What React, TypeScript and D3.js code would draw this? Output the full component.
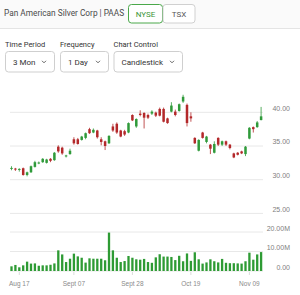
import * as d3 from 'd3';

const dates = [
  '2025-08-14', '2025-08-15', '2025-08-18', '2025-08-19', '2025-08-20', '2025-08-21', '2025-08-22',
  '2025-08-25', '2025-08-26', '2025-08-27', '2025-08-28', '2025-08-29',
  '2025-09-02', '2025-09-03', '2025-09-04', '2025-09-05',
  '2025-09-08', '2025-09-09', '2025-09-10', '2025-09-11', '2025-09-12',
  '2025-09-15', '2025-09-16', '2025-09-17', '2025-09-18', '2025-09-19',
  '2025-09-22', '2025-09-23', '2025-09-24', '2025-09-25', '2025-09-26',
  '2025-09-29', '2025-09-30', '2025-10-01', '2025-10-02', '2025-10-03',
  '2025-10-06', '2025-10-07', '2025-10-08', '2025-10-09', '2025-10-10',
  '2025-10-13', '2025-10-14', '2025-10-15', '2025-10-16', '2025-10-17',
  '2025-10-20', '2025-10-21', '2025-10-22', '2025-10-23', '2025-10-24',
  '2025-10-27', '2025-10-28', '2025-10-29', '2025-10-30', '2025-10-31',
  '2025-11-03', '2025-11-04', '2025-11-05', '2025-11-06', '2025-11-07',
  '2025-11-10', '2025-11-11', '2025-11-12', '2025-11-13',
];

const opens = [
  31.7, 31.65, 31.5, 31.7, 30.7, 31.1, 31.9,
  32.5, 32.6, 32.5, 33.1, 32.9,
  34.9, 34.75, 33.5, 33.8,
  36.0, 36.0, 35.9, 36.2, 37.5,
  37.0, 37.3, 36.0, 35.7, 35.4,
  37.9, 38.3, 37.3, 37.2, 37.0,
  39.6, 37.9, 39.8, 39.9, 39.6,
  39.8, 39.95, 40.5, 40.5, 39.1,
  40.1, 40.1, 40.2, 41.6, 41.1,
  39.4, 36.2, 34.3, 37.0, 35.6,
  35.2, 34.0, 36.2, 35.2, 35.7,
  35.2, 33.9, 34.0, 34.2, 33.8,
  36.1, 37.8, 37.8, 38.85,
];

const closes = [
  31.75, 31.55, 31.6, 30.7, 31.1, 32.0, 32.6,
  32.55, 33.1, 33.0, 32.8, 34.0,
  34.2, 33.9, 33.6, 34.3,
  35.4, 35.3, 36.4, 36.9, 36.9,
  37.4, 36.3, 35.6, 35.0, 36.5,
  37.3, 37.0, 36.4, 36.7, 38.4,
  38.8, 39.0, 39.6, 39.2, 39.2,
  40.1, 39.5, 39.5, 38.6, 38.4,
  41.0, 39.6, 41.2, 42.3, 38.4,
  39.1, 35.4, 35.9, 36.2, 36.4,
  34.6, 35.3, 35.2, 35.7, 35.2,
  34.7, 33.3, 33.7, 33.9, 34.9,
  37.7, 37.5, 38.5, 39.4,
];

const highs = [
  32.0, 31.75, 31.7, 31.8, 31.2, 32.1, 32.8,
  32.7, 33.2, 33.1, 33.2, 34.1,
  35.1, 34.9, 33.7, 34.6,
  36.3, 36.2, 36.5, 37.0, 37.7,
  37.6, 37.4, 36.3, 35.8, 36.6,
  38.3, 38.5, 37.4, 37.4, 38.5,
  39.7, 39.1, 40.3, 40.0, 39.8,
  40.3, 40.1, 40.7, 40.7, 39.2,
  41.5, 40.4, 41.3, 42.6, 41.3,
  40.0, 36.3, 36.0, 37.1, 36.5,
  35.3, 35.7, 36.3, 35.8, 35.8,
  35.3, 34.0, 34.1, 34.3, 35.0,
  37.8, 37.9, 38.7, 40.8,
];

const lows = [
  31.4, 31.3, 31.2, 30.6, 30.5, 31.0, 31.8,
  32.3, 32.5, 32.4, 32.6, 32.8,
  34.0, 33.7, 33.3, 33.7,
  35.2, 35.2, 35.8, 36.0, 36.8,
  36.9, 36.1, 35.1, 34.4, 35.3,
  37.1, 36.8, 36.3, 36.5, 36.9,
  38.7, 37.7, 39.4, 37.6, 39.0,
  39.6, 39.3, 39.4, 38.5, 38.3,
  40.0, 39.4, 40.1, 41.4, 37.9,
  38.6, 35.3, 34.2, 36.1, 35.4,
  33.8, 33.9, 35.0, 35.0, 35.0,
  34.5, 33.2, 33.6, 33.8, 33.5,
  36.0, 37.0, 37.7, 38.8,
];

// millions of shares
const volumes = [
  2.4, 3.1, 1.9, 2.9, 4.8, 3.8, 3.9,
  2.7, 2.9, 2.9, 3.2, 3.9,
  10.6, 8.5, 4.6, 6.3,
  8.9, 7.5, 6.8, 4.3, 6.5,
  6.3, 6.3, 6.3, 5.5, 19.7,
  10.6, 6.8, 4.6, 5.1, 7.7,
  6.8, 6.0, 5.8, 6.2, 4.6,
  4.2, 7.0, 8.6, 7.4, 7.4,
  7.2, 5.6, 7.8, 5.0, 9.0,
  5.2, 9.6, 6.0, 3.8, 4.4,
  6.0, 5.0, 4.4, 6.2, 4.2,
  4.0, 4.0, 3.9, 3.8, 5.0,
  9.4, 5.8, 8.5, 9.7,
];

const priceTicks = [40, 35, 30, 25];
const volumeTicks = [20, 10, 0];
const dateTicks = ['2025-08-18', '2025-09-08', '2025-09-29', '2025-10-20', '2025-11-10'];
const dateTickLabels = ['Aug 17', 'Sept 07', 'Sept 28', 'Oct 19', 'Nov 09'];

const controlLabels = ['Time Period', 'Frequency', 'Chart Control'];
const controlValues = ['3 Mon', '1 Day', 'Candlestick'];

const GREEN = '#2f9a3a';
const RED = '#b3282a';
const VOL = '#2e9b34';
const GRID = '#e8e8e8';
const AXIS_TEXT = '#808080';

export default function App() {
  const x = d3.scalePoint<string>().domain(dates).range([11.5, 261.1]);
  const y = d3.scaleLinear().domain([25, 40]).range([213.4, 112.3]);
  const yv = d3.scaleLinear().domain([0, 20]).range([271, 232]);

  const candles = dates.map((d, i) => ({
    d, o: opens[i], c: closes[i], h: highs[i], l: lows[i], v: volumes[i],
  }));

  const bw = 2.5;
  const font = 'Roboto, sans-serif';
  const axisFont = '"Liberation Sans", Arial, sans-serif';

  // select boxes under the control labels
  const boxes = [
    { x: 5, w: 49 },
    { x: 60, w: 48 },
    { x: 113.5, w: 68.5 },
  ];

  return (
    <svg width={300} height={295} style={{ position: 'absolute', left: 0, top: 0, background: '#fff' }}>
      {/* header */}
      <rect x={0} y={0} width={300} height={28} fill="#fafafa" />
      <line x1={0} x2={300} y1={28.5} y2={28.5} stroke="#e4e4e4" />
      <text x={4} y={15.5} fontFamily={font} fontSize={8.3} fill="#4a4a4a">
        Pan American Silver Corp | PAAS
      </text>
      <rect x={128.5} y={4.5} width={34} height={18.5} rx={3} fill="#fff" stroke="#4aa84a" />
      <text x={145.5} y={16.5} textAnchor="middle" fontFamily={font} fontSize={8} fill="#3a963a">NYSE</text>
      <rect x={163} y={4.5} width={32} height={18.5} rx={3} fill="#fff" stroke="#d0d0d0" />
      <text x={179} y={16.5} textAnchor="middle" fontFamily={font} fontSize={8} fill="#555">TSX</text>

      {/* controls */}
      {boxes.map((b, i) => (
        <g key={i}>
          <text x={b.x} y={47} fontFamily={font} fontSize={7.5} fill="#333">{controlLabels[i]}</text>
          <rect x={b.x + 0.5} y={51.5} width={b.w} height={20.5} rx={3} fill="#fff" stroke="#cfcfcf" />
          <text x={b.x + 8} y={64.8} fontFamily={font} fontSize={8} fill="#333">{controlValues[i]}</text>
          <path
            d={`M${b.x + b.w - 12},${60.8} l2,2 l2,-2`}
            fill="none" stroke="#555" strokeWidth={0.9}
          />
        </g>
      ))}

      {/* grid */}
      {priceTicks.map(t => (
        <g key={'p' + t}>
          <line x1={10} x2={263} y1={y(t)} y2={y(t)} stroke={GRID} strokeWidth={1} />
          <text x={290} y={y(t) - 1.8} textAnchor="end" fontFamily={axisFont} fontSize={7} fill={AXIS_TEXT}>
            {t.toFixed(2)}
          </text>
        </g>
      ))}
      {volumeTicks.map(t => (
        <g key={'v' + t}>
          <line x1={10} x2={263} y1={yv(t)} y2={yv(t)} stroke={GRID} strokeWidth={1} />
          <text x={290} y={yv(t) - 1.5} textAnchor="end" fontFamily={axisFont} fontSize={7} fill={AXIS_TEXT}>
            {t === 0 ? '0.00' : t.toFixed(2) + 'M'}
          </text>
        </g>
      ))}

      {/* volume */}
      {candles.map(c => (
        <rect
          key={'vol' + c.d}
          x={(x(c.d) as number) - 1.15}
          y={yv(c.v)}
          width={2.3}
          height={yv(0) - yv(c.v)}
          fill={VOL}
        />
      ))}

      {/* candles */}
      {candles.map(c => {
        const cx = x(c.d) as number;
        const col = c.c >= c.o ? GREEN : RED;
        const top = y(Math.max(c.o, c.c));
        const bot = y(Math.min(c.o, c.c));
        return (
          <g key={'c' + c.d}>
            <line x1={cx} x2={cx} y1={y(c.h)} y2={y(c.l)} stroke={col} strokeWidth={0.8} />
            <rect x={cx - bw / 2} y={top} width={bw} height={Math.max(1, bot - top)} fill={col} />
          </g>
        );
      })}

      {/* date axis */}
      {dateTicks.map((d, i) => (
        <g key={d}>
          <line x1={x(d) as number} x2={x(d) as number} y1={272} y2={275} stroke="#dadada" />
          <text x={x(d) as number} y={286} textAnchor="middle" fontFamily={axisFont} fontSize={6.5} fill="#8a8a8a">
            {dateTickLabels[i]}
          </text>
        </g>
      ))}
    </svg>
  );
}
